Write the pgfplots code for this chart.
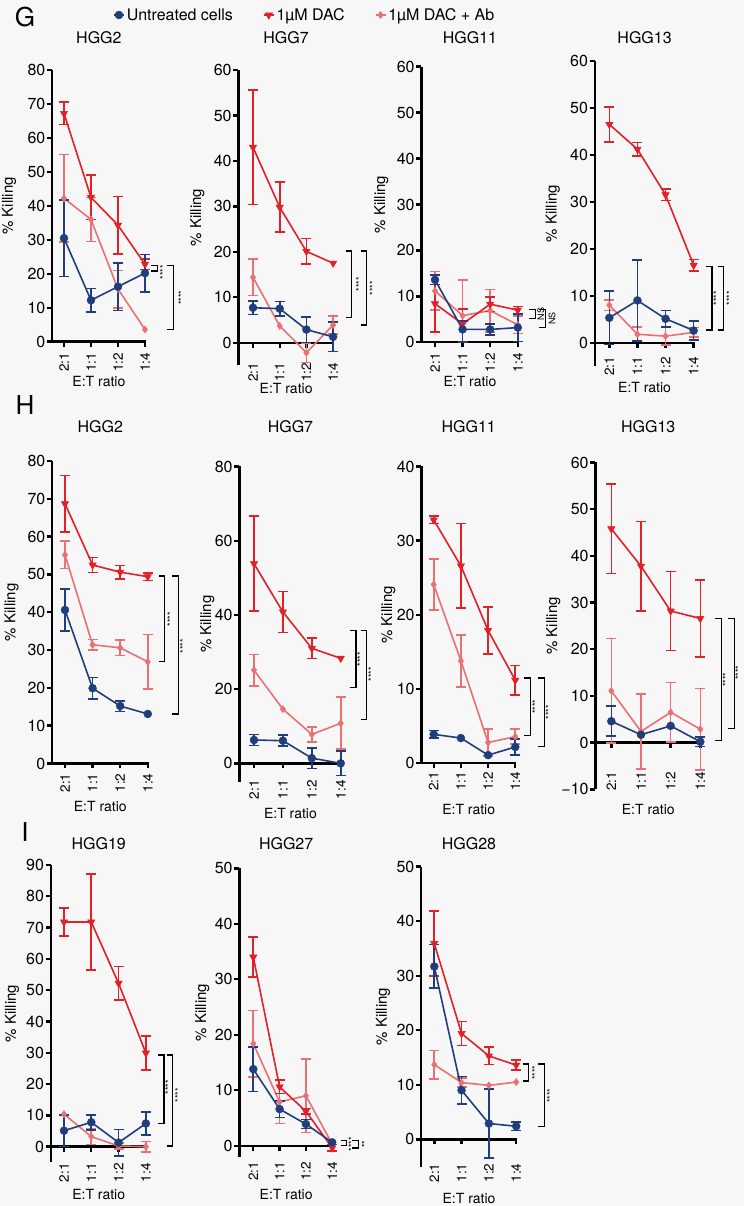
\documentclass[border=0pt]{standalone}
\usepackage{fontspec}
\setmainfont{TeX Gyre Heros}
\usepackage{pgfplots}
\pgfplotsset{compat=1.18}
\definecolor{cB}{RGB}{32,62,125}
\definecolor{cR}{RGB}{226,32,40}
\definecolor{cP}{RGB}{234,112,116}
\definecolor{bg}{RGB}{247,247,247}
\pgfplotsset{
 panel/.style={
  scale only axis, clip=false, anchor=south west,
  axis y line=left, axis x line=middle,
  axis line style={-, line width=2.4pt, black},
  xtick={0,1,2,3}, xticklabels={2:1,1:1,1:2,1:4},
  tick align=outside, major tick length=5pt,
  tick style={line width=2.4pt, black},
  hide obscured x ticks=false, hide obscured y ticks=false,
  /pgf/number format/assume math mode=true,
  yticklabel style={font=\fontsize{16}{16}\selectfont, inner sep=1.5pt},
  xlabel={E:T ratio}, ylabel={\% Killing},
  xlabel style={font=\fontsize{14}{14}\selectfont},
  ylabel style={font=\fontsize{15}{15}\selectfont},
  title style={font=\fontsize{16}{16}\selectfont},
 },
 lab/.style n args={4}{
  title style={at={([yshift=#1]axis description cs:0.5,1)},anchor=center},
  ylabel style={at={([xshift=-#2]axis description cs:0,0.5)},anchor=center},
  xlabel style={at={([yshift=-#3]axis description cs:0.5,0)},anchor=center},
  xticklabel style={yshift=-#4+5pt, rotate=90, anchor=east, inner sep=0pt, font=\fontsize{13.5}{13.5}\selectfont},
 },
 serB/.style={color=cB, line width=1.6pt, mark=*, mark size=4pt, mark options={solid, fill=cB, line width=0.4pt}},
 serR/.style={color=cR, line width=1.6pt, mark=triangle*, mark size=4.3pt, mark options={solid, rotate=180, fill=cR, line width=0.4pt}},
 serP/.style={color=cP, line width=1.6pt, mark=diamond*, mark size=3.6pt, mark options={solid, fill=cP, line width=0.4pt}},
 err/.style={color=#1, only marks, mark=none, forget plot,
   error bars/.cd, y dir=both, y explicit,
   error bar style={line width=1.6pt, #1},
   error mark options={rotate=90, mark size=5pt, line width=1.6pt, #1}},
}
\newcommand{\brk}[6]{%
 \draw[black, line width=1.2pt] ([xshift=-6pt]axis cs:#1,#2) -- (axis cs:#1,#2) -- (axis cs:#1,#3) -- ([xshift=-6pt]axis cs:#1,#3);
 \node[rotate=90, font=\fontsize{9}{9}\selectfont, inner sep=0pt] at (axis cs:#4,#5) {#6};
}
\begin{document}
\begin{tikzpicture}
\fill[bg] (0pt,0pt) rectangle (744pt,1206pt);
\node[font=\fontsize{26}{26}\selectfont] at (25pt,1189.3pt) {G};
\node[font=\fontsize{26}{26}\selectfont] at (25pt,801pt) {H};
\node[font=\fontsize{26}{26}\selectfont] at (25pt,374pt) {I};

% ---------------- G HGG2
\begin{axis}[panel, at={(52pt,864.3pt)}, width=93.8pt, height=271.7pt,
 xmin=-0.444, xmax=3.03, ymin=0, ymax=80, ytick={0,10,...,80},
 title={HGG2}, lab={26.7pt}{43pt}{40.3pt}{11.3pt},
 reverse legend, legend columns=3,
 legend style={at={(0.650,1.2024)}, anchor=west, draw=none, fill=none, inner sep=0pt,
   font=\fontsize{16}{16}\selectfont, /tikz/every even column/.append style={column sep=28pt}},
 legend cell align=left,
 legend image code/.code={\draw[#1, mark repeat=2, mark phase=2] plot coordinates {(0pt,0pt) (5pt,0pt) (10pt,0pt)};}]
\addplot[err=cP] coordinates {(0,42.2) +- (0,12.9) (1,36) +- (0,6.5) (2,15.5) +- (0,5.5)};
\addplot[serP] coordinates {(0,42.2) (1,36) (2,15.5) (3,3.6)};
\addlegendentry{1µM DAC + Ab}
\addplot[err=cR] coordinates {(0,67.2) +- (0,3.3) (1,42.5) +- (0,6.5) (2,34.3) +- (0,8.5) (3,22.8) +- (0,1.5)};
\addplot[serR] coordinates {(0,67.2) (1,42.5) (2,34.3) (3,22.8)};
\addlegendentry{1µM DAC}
\addplot[err=cB] coordinates {(0,30.5) +- (0,11.3) (1,12.2) +- (0,3.5) (2,16.2) +- (0,7) (3,20.2) +- (0,5.5)};
\addplot[serB] coordinates {(0,30.5) (1,12.2) (2,16.2) (3,20.2)};
\addlegendentry{Untreated cells}
\brk{3.46}{22.5}{20.8}{3.68}{20.5}{****}
\brk{4.05}{22.5}{3.7}{4.36}{13}{****}
\end{axis}

% ---------------- G HGG7
\begin{axis}[panel, at={(238.3pt,840.5pt)}, width=95.6pt, height=295.5pt,
 xmin=-0.551, xmax=3.03, ymin=-5, ymax=60, ytick={0,10,...,60},
 title={HGG7}, lab={26.7pt}{41pt}{23.5pt}{20pt}]
\addplot[err=cP] coordinates {(0,14.4) +- (0,4) (2,-2.2) +- (0,2.1) (3,3.9) +- (0,2)};
\addplot[serP] coordinates {(0,14.4) (1,3.7) (2,-2.2) (3,3.9)};
\addplot[err=cR] coordinates {(0,43) +- (0,12.6) (1,29.8) +- (0,5.5) (2,20.1) +- (0,2.8)};
\addplot[serR] coordinates {(0,43) (1,29.8) (2,20.1) (3,17.5)};
\addplot[err=cB] coordinates {(0,7.7) +- (0,1.5) (1,7.5) +- (0,1.6) (2,2.9) +- (0,2.8) (3,1.3) +- (0,3.2)};
\addplot[serB] coordinates {(0,7.7) (1,7.5) (2,2.9) (3,1.3)};
\brk{3.70}{20.2}{5.6}{3.98}{12.9}{****}
\brk{4.26}{20.2}{3.9}{4.50}{12}{****}
\end{axis}

% ---------------- G HGG11
\begin{axis}[panel, at={(421.3pt,863.7pt)}, width=97.3pt, height=275.6pt,
 xmin=-0.496, xmax=3.03, ymin=0, ymax=60, ytick={0,10,...,60},
 title={HGG11}, lab={23.4pt}{40pt}{39.7pt}{11pt}]
\addplot[err=cP] coordinates {(0,11.2) +- (0,4.2) (1,5.8) += (0,7.7) -= (0,5.8) (2,6.9) +- (0,4.6) (3,3.8) +- (0,1.9)};
\addplot[serP] coordinates {(0,11.2) (1,5.8) (2,6.9) (3,3.8)};
\addplot[err=cR] coordinates {(0,8.4) +- (0,6.2) (1,4.0) += (0,3.3) -= (0,4.0) (2,8.3) +- (0,1.6) (3,7.0) +- (0,0.8)};
\addplot[serR] coordinates {(0,8.4) (1,4.0) (2,8.3) (3,7.0)};
\addplot[err=cB] coordinates {(0,13.6) +- (0,1) (1,2.8) += (0,1.8) -= (0,2.8) (2,2.8) +- (0,1.2) (3,3.2) +- (0,3)};
\addplot[serB] coordinates {(0,13.6) (1,2.8) (2,2.8) (3,3.2)};
\brk{3.63}{7.2}{5.2}{3.84}{6.2}{NS}
\brk{4.00}{7.2}{3.3}{4.24}{5.2}{NS}
\end{axis}

% ---------------- G HGG13
\begin{axis}[panel, at={(594.7pt,839.8pt)}, width=99.8pt, height=305.2pt,
 xmin=-0.52, xmax=3.03, ymin=-5, ymax=60, ytick={0,10,...,60},
 title={HGG13}, lab={17.7pt}{42pt}{21.8pt}{14pt}]
\addplot[err=cP] coordinates {(0,8.0) +- (0,1.1) (1,1.8) +- (0,1.5) (2,1.4) +- (0,1.9) (3,2.2) +- (0,1)};
\addplot[serP] coordinates {(0,8.0) (1,1.8) (2,1.4) (3,2.2)};
\addplot[err=cR] coordinates {(0,46.5) +- (0,3.7) (1,41.2) +- (0,1.4) (2,31.5) +- (0,1.2) (3,16.5) +- (0,1.2)};
\addplot[serR] coordinates {(0,46.5) (1,41.2) (2,31.5) (3,16.5)};
\addplot[err=cB] coordinates {(0,5.3) +- (0,5.7) (1,9.0) +- (0,8.6) (2,5.1) +- (0,1.8) (3,2.6) +- (0,2)};
\addplot[serB] coordinates {(0,5.3) (1,9.0) (2,5.1) (3,2.6)};
\brk{3.65}{16.3}{2.7}{3.82}{9.5}{****}
\brk{4.07}{16.3}{2.7}{4.29}{9.5}{****}
\end{axis}

% ---------------- H HGG2
\begin{axis}[panel, at={(52pt,442.5pt)}, width=96.6pt, height=302.5pt,
 xmin=-0.471, xmax=3.03, ymin=0, ymax=80, ytick={0,10,...,80},
 title={HGG2}, lab={28pt}{40.5pt}{43.5pt}{9.8pt}]
\addplot[err=cP] coordinates {(0,55.2) +- (0,3.6) (1,31.4) +- (0,1.4) (2,30.6) +- (0,2) (3,26.9) +- (0,7.2)};
\addplot[serP] coordinates {(0,55.2) (1,31.4) (2,30.6) (3,26.9)};
\addplot[err=cR] coordinates {(0,68.7) +- (0,7.5) (1,52.5) +- (0,2) (2,50.6) +- (0,1.8) (3,49.4) +- (0,1)};
\addplot[serR] coordinates {(0,68.7) (1,52.5) (2,50.6) (3,49.4)};
\addplot[err=cB] coordinates {(0,40.6) +- (0,5.5) (1,19.9) +- (0,2.8) (2,15.2) +- (0,1.4)};
\addplot[serB] coordinates {(0,40.6) (1,19.9) (2,15.2) (3,13.1)};
\brk{3.62}{49.6}{26.9}{3.83}{38.2}{****}
\brk{4.10}{49.6}{13.1}{4.29}{31}{****}
\end{axis}

% ---------------- H HGG7
\begin{axis}[panel, at={(239.3pt,424.1pt)}, width=102.3pt, height=315.4pt,
 xmin=-0.509, xmax=3.03, ymin=-5, ymax=80, ytick={0,20,...,80},
 title={HGG7}, lab={33.5pt}{32pt}{31.4pt}{16.7pt}]
\addplot[err=cP] coordinates {(0,25.1) +- (0,4.2) (2,7.8) +- (0,2) (3,10.8) +- (0,7)};
\addplot[serP] coordinates {(0,25.1) (1,14.6) (2,7.8) (3,10.8)};
\addplot[err=cR] coordinates {(0,53.8) +- (0,12.8) (1,40.8) +- (0,5.5) (2,31.0) +- (0,2.7)};
\addplot[serR] coordinates {(0,53.8) (1,40.8) (2,31.0) (3,28.3)};
\addplot[err=cB] coordinates {(0,6.3) +- (0,1.5) (1,6.1) +- (0,1.5) (2,1.4) +- (0,2.8) (3,0) +- (0,3.3)};
\addplot[serB] coordinates {(0,6.3) (1,6.1) (2,1.4) (3,0)};
\brk{3.53}{35.9}{20.4}{3.69}{28}{****}
\brk{3.90}{35.9}{11.9}{4.07}{24}{****}
\end{axis}

% ---------------- H HGG11
\begin{axis}[panel, at={(421.3pt,442.7pt)}, width=94.8pt, height=296.8pt,
 xmin=-0.456, xmax=3.03, ymin=0, ymax=40, ytick={0,10,...,40},
 title={HGG11}, lab={33.5pt}{33pt}{46.7pt}{8.4pt}]
\addplot[err=cP] coordinates {(0,24.1) +- (0,3.4) (1,13.8) +- (0,3.5) (2,2.8) +- (0,1.8) (3,3.6) +- (0,1)};
\addplot[serP] coordinates {(0,24.1) (1,13.8) (2,2.8) (3,3.6)};
\addplot[err=cR] coordinates {(0,32.8) +- (0,0.5) (1,26.6) +- (0,5.7) (2,17.9) +- (0,3.2) (3,11.2) +- (0,2)};
\addplot[serR] coordinates {(0,32.8) (1,26.6) (2,17.9) (3,11.2)};
\addplot[err=cB] coordinates {(0,3.9) +- (0,0.5) (3,2.2) +- (0,1.1)};
\addplot[serB] coordinates {(0,3.9) (1,3.4) (2,1.1) (3,2.2)};
\brk{3.55}{11.5}{3.7}{3.75}{7.6}{****}
\brk{4.07}{11.5}{2.3}{4.24}{6.9}{****}
\end{axis}

% ---------------- H HGG13
\begin{axis}[panel, at={(595.3pt,416.6pt)}, width=105.9pt, height=326.9pt,
 xmin=-0.539, xmax=3.03, ymin=-10, ymax=60, ytick={-10,0,...,60},
 yticklabels={−10,0,10,20,30,40,50,60},
 title={HGG13}, lab={29.5pt}{42pt}{20.6pt}{29pt}]
\addplot[err=cP] coordinates {(0,11.1) +- (0,11.2) (1,2.4) +- (0,8) (2,6.5) +- (0,6.4) (3,2.9) +- (0,8.7)};
\addplot[serP] coordinates {(0,11.1) (1,2.4) (2,6.5) (3,2.9)};
\addplot[err=cR] coordinates {(0,45.8) +- (0,9.6) (1,37.8) +- (0,9.6) (2,28.2) +- (0,8.5) (3,26.6) +- (0,8.3)};
\addplot[serR] coordinates {(0,45.8) (1,37.8) (2,28.2) (3,26.6)};
\addplot[err=cB] coordinates {(0,4.6) +- (0,3.2) (3,0.2) +- (0,1)};
\addplot[serB] coordinates {(0,4.6) (1,1.7) (2,3.6) (3,0.2)};
\brk{3.71}{26.6}{0.4}{3.87}{13.5}{****}
\brk{4.15}{26.6}{3.1}{4.29}{15}{****}
\end{axis}

% ---------------- I HGG19
\begin{axis}[panel, at={(50.7pt,43.7pt)}, width=96pt, height=297.3pt,
 xmin=-0.487, xmax=3.03, ymin=-5, ymax=90, ytick={0,10,...,90},
 title={HGG19}, lab={15.7pt}{38.7pt}{32.7pt}{16.6pt}]
\addplot[err=cP] coordinates {(1,3.2) +- (0,2.5) (2,0.2) +- (0,1) (3,0) +- (0,1.7)};
\addplot[serP] coordinates {(0,10.4) (1,3.2) (2,0.2) (3,0)};
\addplot[err=cR] coordinates {(0,71.8) +- (0,4.4) (1,71.8) +- (0,15.4) (2,52.2) +- (0,5.4) (3,29.9) +- (0,5.4)};
\addplot[serR] coordinates {(0,71.8) (1,71.8) (2,52.2) (3,29.9)};
\addplot[err=cB] coordinates {(0,5.1) +- (0,5) (1,7.8) +- (0,2.4) (2,1.3) +- (0,4.2) (3,7.4) +- (0,3.6)};
\addplot[serB] coordinates {(0,5.1) (1,7.8) (2,1.3) (3,7.4)};
\brk{3.66}{29.3}{7.3}{3.83}{19}{****}
\brk{3.98}{29.3}{0.2}{4.19}{16.5}{****}
\end{axis}

% ---------------- I HGG27
\begin{axis}[panel, at={(239.3pt,49.2pt)}, width=93.7pt, height=288.5pt,
 xmin=-0.532, xmax=3.03, ymin=-2, ymax=50, ytick={0,10,...,50},
 title={HGG27}, lab={19pt}{37pt}{37.5pt}{16pt}]
\addplot[err=cP] coordinates {(0,18.4) +- (0,6) (1,7.9) +- (0,3.9) (2,9.0) +- (0,6.6)};
\addplot[serP] coordinates {(0,18.4) (1,7.9) (2,9.0) (3,0.3)};
\addplot[err=cR] coordinates {(0,34) +- (0,3.6) (1,10.6) +- (0,1.2) (2,6.2) +- (0,0.5) (3,-0.4) +- (0,0.6)};
\addplot[serR] coordinates {(0,34) (1,10.6) (2,6.2) (3,-0.4)};
\addplot[err=cB] coordinates {(0,13.8) +- (0,4) (1,6.6) +- (0,1.5) (2,3.9) +- (0,0.8)};
\addplot[serB] coordinates {(0,13.8) (1,6.6) (2,3.9) (3,0.6)};
\brk{3.55}{1.0}{0.1}{3.75}{0.3}{****}
\brk{3.99}{1.0}{-0.4}{4.25}{0.3}{**}
\end{axis}

% ---------------- I HGG28
\begin{axis}[panel, at={(421pt,39.4pt)}, width=96pt, height=299.9pt,
 xmin=-0.487, xmax=3.03, ymin=-5, ymax=50, ytick={0,10,...,50},
 title={HGG28}, lab={17.4pt}{38pt}{31.7pt}{24pt}]
\addplot[err=cP] coordinates {(0,13.7) +- (0,2.6) (1,10.4) +- (0,0.8)};
\addplot[serP] coordinates {(0,13.7) (1,10.4) (2,9.9) (3,10.5)};
\addplot[err=cR] coordinates {(0,35.9) +- (0,6) (1,19.4) +- (0,2.2) (2,15.3) +- (0,1.6) (3,13.6) +- (0,0.9)};
\addplot[serR] coordinates {(0,35.9) (1,19.4) (2,15.3) (3,13.6)};
\addplot[err=cB] coordinates {(0,31.7) +- (0,4) (1,9.0) +- (0,2.5) (2,2.9) +- (0,6.3) (3,2.4) +- (0,0.8)};
\addplot[serB] coordinates {(0,31.7) (1,9.0) (2,2.9) (3,2.4)};
\brk{3.46}{13.8}{10.7}{3.70}{12.2}{****}
\brk{4.03}{13.8}{2.4}{4.25}{8}{****}
\end{axis}

\pgfresetboundingbox
\path[use as bounding box] (0pt,0pt) rectangle (744pt,1206pt);
\end{tikzpicture}
\end{document}
